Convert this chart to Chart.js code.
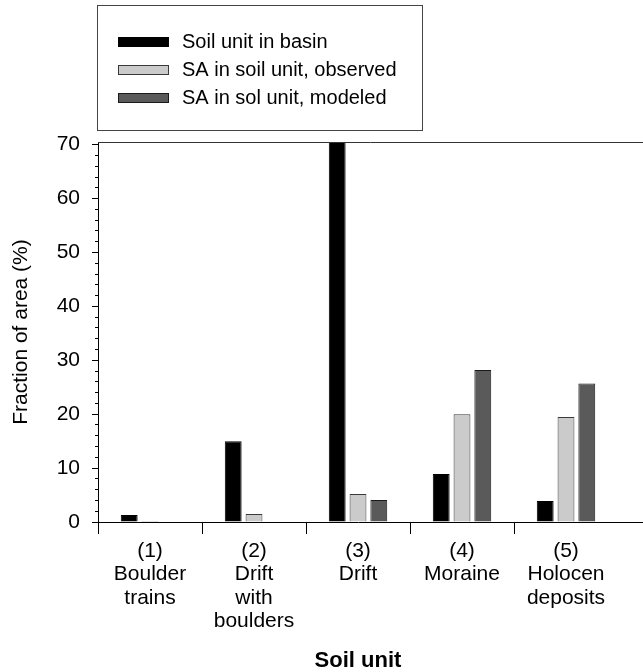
<!DOCTYPE html>
<html>
<head>
<meta charset="utf-8">
<script src="https://cdn.jsdelivr.net/npm/chart.js@4/dist/chart.umd.min.js"></script>
<style>
  html, body { margin: 0; padding: 0; background: #fff; overflow: hidden; }
  #wrap { width: 643px; height: 672px; position: relative; }
</style>
</head>
<body>
<div id="wrap"><canvas id="c"></canvas></div>
<script>
// Soil units (multi-line category labels)
const categories = [
  ['(1)', 'Boulder', 'trains'],
  ['(2)', 'Drift', 'with', 'boulders'],
  ['(3)', 'Drift'],
  ['(4)', 'Moraine'],
  ['(5)', 'Holocen', 'deposits']
];

// Fraction of area (%) for each series
const seriesNames = [
  'Soil unit in basin',
  'SA in soil unit, observed',
  'SA in sol unit, modeled'
];
const soilUnitInBasin = [1.3, 15.0, 72.0, 8.9, 3.9];
const saObserved      = [0.2, 1.5, 5.2, 20.0, 19.5];
const saModeled       = [0.0, 0.0, 4.1, 28.2, 25.7];

// y-axis range and ticks
const yMin = 0;
const yMax = 70.5;
const yMajorStep = 10;
const yMinorStep = 2;

Chart.defaults.font.family = "'Liberation Sans', Arial, sans-serif";
Chart.defaults.color = '#000';

// Legend panel drawn in the top margin, with a framed box
const legendPanel = {
  id: 'legendPanel',
  afterDraw(chart) {
    const ctx = chart.ctx;
    ctx.save();
    ctx.strokeStyle = '#444';
    ctx.lineWidth = 1;
    ctx.strokeRect(97.5, 5.5, 325, 125);
    ctx.font = "20px 'Liberation Sans', Arial, sans-serif";
    ctx.textBaseline = 'middle';
    ctx.textAlign = 'left';
    chart.data.datasets.forEach((ds, i) => {
      const cy = 42 + i * 28;
      ctx.fillStyle = ds.backgroundColor;
      ctx.fillRect(118, cy - 5, 51, 10);
      if (i > 0) {
        ctx.strokeStyle = ds.borderColor;
        ctx.strokeRect(118.5, cy - 4.5, 50, 9);
      }
      ctx.fillStyle = '#000';
      ctx.fillText(ds.label, 182, cy);
    });
    ctx.restore();
  }
};

// Frame lines: top edge and the run-out of the x-axis line to the canvas edge
const frameLines = {
  id: 'frameLines',
  afterDraw(chart) {
    const {ctx, chartArea, width} = chart;
    ctx.save();
    ctx.strokeStyle = '#333';
    ctx.lineWidth = 1;
    ctx.beginPath();
    ctx.moveTo(chartArea.left, Math.round(chartArea.top) + 0.5);
    ctx.lineTo(width, Math.round(chartArea.top) + 0.5);
    ctx.stroke();
    ctx.strokeStyle = '#000';
    ctx.beginPath();
    ctx.moveTo(chartArea.right, Math.round(chartArea.bottom) + 0.5);
    ctx.lineTo(width, Math.round(chartArea.bottom) + 0.5);
    ctx.stroke();
    ctx.restore();
  }
};

new Chart(document.getElementById('c'), {
  type: 'bar',
  data: {
    labels: categories,
    datasets: [
      {
        label: seriesNames[0],
        data: soilUnitInBasin,
        backgroundColor: '#000000',
        borderColor: '#000000',
        borderWidth: 1
      },
      {
        label: seriesNames[1],
        data: saObserved,
        backgroundColor: '#cbcbcb',
        borderColor: '#3a3a3a',
        borderWidth: 1
      },
      {
        label: seriesNames[2],
        data: saModeled,
        backgroundColor: '#5a5a5a',
        borderColor: '#1a1a1a',
        borderWidth: 1
      }
    ]
  },
  options: {
    responsive: true,
    maintainAspectRatio: false,
    animation: false,
    layout: { padding: { top: 142, right: 25, bottom: 0, left: 0 } },
    datasets: {
      bar: { categoryPercentage: 0.6, barPercentage: 0.81 }
    },
    plugins: {
      legend: { display: false },
      tooltip: { enabled: false }
    },
    scales: {
      x: {
        type: 'category',
        offset: true,
        grid: {
          offset: true,
          drawOnChartArea: false,
          tickLength: 12,
          tickWidth: 1,
          tickColor: (c) => (c.tick ? '#000' : 'rgba(0,0,0,0)')
        },
        border: { display: true, color: '#000', width: 1 },
        ticks: {
          font: { size: 21, lineHeight: 1.12 },
          padding: 5,
          maxRotation: 0,
          autoSkip: false
        },
        title: {
          display: true,
          text: 'Soil unit',
          font: { size: 22, weight: 'bold', lineHeight: 1.0 },
          padding: { top: 0, bottom: 0 }
        },
        afterFit(scale) { scale.height = 150; }
      },
      yMinor: {
        type: 'linear',
        position: 'left',
        weight: 0,
        min: yMin,
        max: yMax,
        ticks: { display: false, stepSize: yMinorStep, includeBounds: false },
        grid: { drawOnChartArea: false, tickLength: 3, tickColor: '#000' },
        border: { display: true, color: '#000' },
        afterFit(scale) { scale.width = 0; }
      },
      y: {
        type: 'linear',
        position: 'left',
        weight: 1,
        min: yMin,
        max: yMax,
        ticks: {
          stepSize: yMajorStep,
          includeBounds: false,
          font: { size: 21 },
          padding: 12
        },
        grid: { drawOnChartArea: false, tickLength: 6, tickColor: '#000' },
        border: { display: true, color: '#000' },
        title: {
          display: true,
          text: 'Fraction of area (%)',
          font: { size: 21 },
          padding: { top: 9, bottom: 0 }
        },
        afterFit(scale) { scale.width = 98; }
      }
    }
  },
  plugins: [legendPanel, frameLines]
});
</script>
</body>
</html>
